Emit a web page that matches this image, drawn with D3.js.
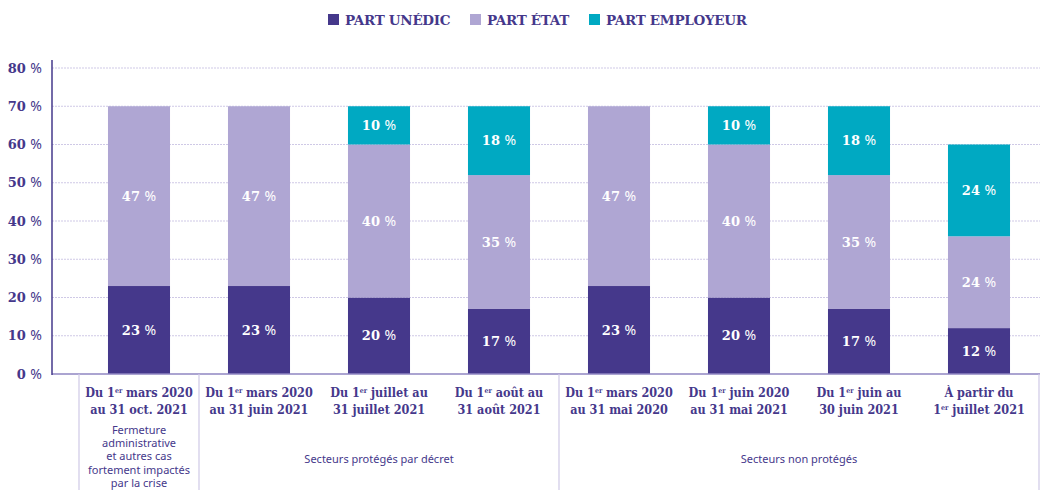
<!DOCTYPE html>
<html>
<head>
<meta charset="utf-8">
<script src="https://cdn.jsdelivr.net/npm/d3@7"></script>
<style>
  body { margin: 0; background: #fff; }
  svg { display: block; }
</style>
</head>
<body>
<div id="chart"></div>
<script>
// categories: two lines each, first line may carry "1er"
const categories = ["c1", "c2", "c3", "c4", "c5", "c6", "c7", "c8"];
const labelLine1 = ["Du 1|er| mars 2020", "Du 1|er| mars 2020", "Du 1|er| juillet au", "Du 1|er| août au",
                    "Du 1|er| mars 2020", "Du 1|er| juin 2020", "Du 1|er| juin au", "À partir du"];
const labelLine2 = ["au 31 oct. 2021", "au 31 juin 2021", "31 juillet 2021", "31 août 2021",
                    "au 31 mai 2020", "au 31 mai 2021", "30 juin 2021", "1|er| juillet 2021"];
const unedic    = [23, 23, 20, 17, 23, 20, 17, 12];
const etat      = [47, 47, 40, 35, 47, 40, 35, 24];
const employeur = [0, 0, 10, 18, 0, 10, 18, 24];
const seriesNames = ["PART UNÉDIC", "PART ÉTAT", "PART EMPLOYEUR"];
const yTicks = [0, 10, 20, 30, 40, 50, 60, 70, 80];
const groups = [
  { from: 0, to: 0, lines: ["Fermeture", "administrative", "et autres cas", "fortement impactés", "par la crise"] },
  { from: 1, to: 3, lines: ["Secteurs protégés par décret"] },
  { from: 4, to: 7, lines: ["Secteurs non protégés"] }
];

const colors = ["#45388b", "#afa6d3", "#00a9c2"];
const textColor = "#45388b";
const width = 1043, height = 490;
const margin = { left: 52, right: 4, top: 68, bottom: 116 };

const svg = d3.select("#chart").append("svg")
  .attr("width", width).attr("height", height);

const x = d3.scaleBand().domain(categories).range([79, 1039]).paddingInner(0.483).paddingOuter(0.2415);
const y = d3.scaleLinear().domain([0, 80]).range([374, 68]);

// gridlines
svg.append("g").selectAll("line").data(yTicks.slice(1)).join("line")
  .attr("x1", margin.left).attr("x2", 1040)
  .attr("y1", d => y(d)).attr("y2", d => y(d))
  .attr("stroke", "#cfc9e6").attr("stroke-width", 1).attr("stroke-dasharray", "2,1");

// y tick labels
const yLab = svg.append("g").selectAll("text").data(yTicks).join("text")
  .attr("x", 42).attr("y", d => y(d)).attr("dy", "0.35em")
  .attr("text-anchor", "end")
  .attr("font-family", "DejaVu Serif").attr("font-weight", "bold")
  .attr("font-size", 13).attr("fill", textColor);
yLab.append("tspan").text(d => d + " ");
yLab.append("tspan").attr("font-weight", "normal").attr("font-family", "Noto Sans").attr("font-size", 14).text("%");

// stacked data
const rows = categories.map((c, i) => ({ cat: c, unedic: unedic[i], etat: etat[i], employeur: employeur[i] }));
const stack = d3.stack().keys(["unedic", "etat", "employeur"])(rows);

const layer = svg.append("g").selectAll("g").data(stack).join("g")
  .attr("fill", (d, i) => colors[i]);

layer.selectAll("rect").data(d => d).join("rect")
  .attr("x", d => x(d.data.cat))
  .attr("width", x.bandwidth())
  .attr("y", d => y(d[1]))
  .attr("height", d => y(d[0]) - y(d[1]));

const vLab = layer.selectAll("text").data(d => d.filter(s => s[1] - s[0] > 0)).join("text")
  .attr("x", d => x(d.data.cat) + x.bandwidth() / 2)
  .attr("y", d => y((d[0] + d[1]) / 2))
  .attr("dy", "0.35em")
  .attr("text-anchor", "middle")
  .attr("fill", "#fff")
  .attr("font-family", "DejaVu Serif").attr("font-weight", "bold").attr("font-size", 13);
vLab.append("tspan").text(d => (d[1] - d[0]) + " ");
vLab.append("tspan").attr("font-weight", "normal").attr("font-family", "Noto Sans").attr("font-size", 14).text("%");

// axes lines
svg.append("line").attr("x1", margin.left).attr("x2", 1040).attr("y1", y(0)).attr("y2", y(0))
  .attr("stroke", "#8f86c2").attr("stroke-width", 1.5);
svg.append("line").attr("x1", margin.left).attr("x2", margin.left).attr("y1", 60).attr("y2", y(0) + 1)
  .attr("stroke", textColor).attr("stroke-width", 1.5);

// group separators
const step = x.step();
const sepX = [x(categories[0]) - (step - x.bandwidth()) / 2];
groups.forEach(g => sepX.push(x(categories[g.to]) + x.bandwidth() + (step - x.bandwidth()) / 2));
svg.append("g").selectAll("line").data(sepX).join("line")
  .attr("x1", d => d).attr("x2", d => d).attr("y1", y(0)).attr("y2", height)
  .attr("stroke", "#cfc9e6").attr("stroke-width", 1.2);

// category labels with superscript "er"
function writeRich(sel, str) {
  str.split("|").forEach((part, k) => {
    if (!part) return;
    const t = sel.append("tspan").text(part);
    if (k % 2 === 1) t.attr("font-size", 7).attr("baseline-shift", "super");
  });
}
const catLab = svg.append("g")
  .attr("font-family", "DejaVu Serif").attr("font-weight", "bold")
  .attr("font-stretch", "condensed")
  .attr("font-size", 12.5).attr("fill", textColor).attr("text-anchor", "middle");
categories.forEach((c, i) => {
  const cx = x(c) + x.bandwidth() / 2;
  [labelLine1[i], labelLine2[i]].forEach((l, j) => {
    const t = catLab.append("text").attr("x", cx).attr("y", 397 + j * 16.5);
    writeRich(t, l);
  });
});

// group labels
const grpLab = svg.append("g")
  .attr("font-family", "Noto Sans").attr("font-size", 11)
  .attr("fill", textColor).attr("text-anchor", "middle");
groups.forEach(g => {
  const cx = (x(categories[g.from]) + x(categories[g.to]) + x.bandwidth()) / 2;
  const y0 = g.lines.length > 1 ? 434 : 463;
  g.lines.forEach((l, j) => {
    grpLab.append("text").attr("x", cx).attr("y", y0 + j * 13.2).text(l);
  });
});

// legend
const legendX = [328, 470, 589];
const legend = svg.append("g").selectAll("g").data(seriesNames).join("g")
  .attr("transform", (d, i) => `translate(${legendX[i]},14)`);
legend.append("rect").attr("width", 11).attr("height", 11).attr("fill", (d, i) => colors[i]);
legend.append("text").attr("x", 17).attr("y", 6).attr("dy", "0.35em")
  .attr("font-family", "DejaVu Serif").attr("font-weight", "bold").attr("font-size", 13.5)
  .attr("letter-spacing", -0.3)
  .attr("fill", textColor).text(d => d);
</script>
</body>
</html>
